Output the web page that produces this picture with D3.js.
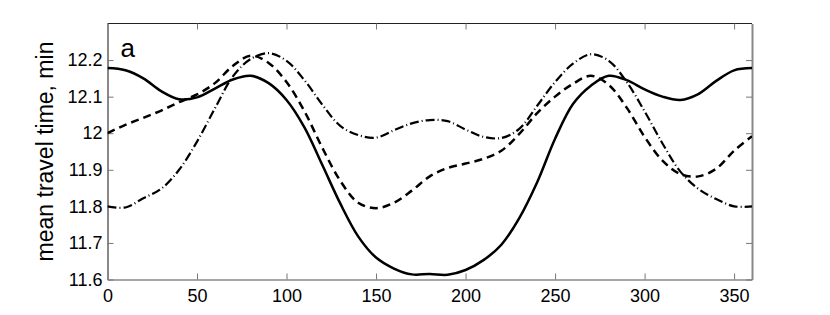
<!DOCTYPE html>
<html>
<head>
<meta charset="utf-8">
<script src="https://cdn.jsdelivr.net/npm/d3@7"></script>
<style>
body { margin: 0; background: #fff; }
text { font-family: "Liberation Sans", Arial, sans-serif; }
</style>
</head>
<body>
<script>
var angles = [0, 10, 20, 30, 40, 50, 60, 70, 80, 90, 100, 110, 120, 130, 140, 150, 160, 170, 180,
              190, 200, 210, 220, 230, 240, 250, 260, 270, 280, 290, 300, 310, 320, 330, 340, 350, 360];

var solidTime = [12.178, 12.172, 12.150, 12.115, 12.093, 12.098, 12.122, 12.147, 12.157, 12.137,
                 12.091, 12.016, 11.913, 11.808, 11.718, 11.660, 11.630, 11.614, 11.615, 11.613,
                 11.626, 11.653, 11.695, 11.768, 11.866, 11.985, 12.080, 12.130, 12.157, 12.145,
                 12.120, 12.100, 12.091, 12.107, 12.143, 12.172, 12.178];

var dashedTime = [12.000, 12.023, 12.042, 12.062, 12.085, 12.106, 12.137, 12.184, 12.212, 12.192,
                  12.140, 12.060, 11.960, 11.870, 11.810, 11.795, 11.810, 11.843, 11.882, 11.905,
                  11.917, 11.930, 11.952, 11.998, 12.055, 12.100, 12.135, 12.157, 12.132, 12.070,
                  11.990, 11.925, 11.888, 11.882, 11.903, 11.952, 11.992];

var dashDotTime = [11.800, 11.797, 11.822, 11.848, 11.900, 11.977, 12.068, 12.155, 12.203, 12.219,
                   12.198, 12.145, 12.078, 12.020, 11.995, 11.988, 12.008, 12.027, 12.036, 12.033,
                   12.010, 11.990, 11.987, 12.012, 12.075, 12.140, 12.190, 12.216, 12.198, 12.140,
                   12.060, 11.972, 11.895, 11.848, 11.820, 11.800, 11.800];

var xTicks = [0, 50, 100, 150, 200, 250, 300, 350];
var yTicks = [11.6, 11.7, 11.8, 11.9, 12, 12.1, 12.2];

var width = 830;
var height = 315;
var margin = { top: 23.5, right: 78, bottom: 35.5, left: 107.5 };
var plotW = width - margin.left - margin.right;
var plotH = height - margin.top - margin.bottom;

var svg = d3.select("body")
  .append("svg")
  .attr("width", width)
  .attr("height", height);

var x = d3.scaleLinear().domain([0, 360]).range([0, plotW]);
var y = d3.scaleLinear().domain([11.6, 12.3]).range([plotH, 0]);

var g = svg.append("g")
  .attr("transform", "translate(" + margin.left + "," + margin.top + ")");

g.append("clipPath")
  .attr("id", "clip")
  .append("rect")
  .attr("width", plotW)
  .attr("height", plotH);

// frame: top line dark, other sides gray like the original
g.append("line")
  .attr("x1", 0).attr("x2", plotW).attr("y1", 0).attr("y2", 0)
  .attr("stroke", "#222").attr("stroke-width", 1);

var xBottom = g.append("g")
  .attr("transform", "translate(0," + plotH + ")")
  .call(d3.axisBottom(x).tickValues(xTicks).tickSizeInner(-6).tickSizeOuter(0).tickPadding(10));

var xTop = g.append("g")
  .call(d3.axisTop(x).tickValues(xTicks).tickSizeInner(-6).tickSizeOuter(0).tickFormat(""));

var yLeft = g.append("g")
  .call(d3.axisLeft(y).tickValues(yTicks).tickSizeInner(-6).tickSizeOuter(0).tickPadding(5)
    .tickFormat(d3.format("~g")));

var yRight = g.append("g")
  .attr("transform", "translate(" + plotW + ",0)")
  .call(d3.axisRight(y).tickValues(yTicks).tickSizeInner(-6).tickSizeOuter(0).tickFormat(""));

[xBottom, xTop, yLeft, yRight].forEach(function(ax) {
  ax.selectAll(".tick line").attr("stroke", "#777").attr("stroke-width", 1);
  ax.selectAll(".tick text")
    .attr("fill", "#000")
    .style("font-size", "18px")
    .style("font-family", "'Liberation Sans', Arial, sans-serif");
});
xTop.select(".domain").remove();

xBottom.select(".domain").attr("stroke", "#888").attr("stroke-width", 1.5);
yLeft.select(".domain").attr("stroke", "#888").attr("stroke-width", 2);
yRight.select(".domain").attr("stroke", "#888").attr("stroke-width", 2);

function makeLine(values) {
  return d3.line()
    .x(function(d, i) { return x(angles[i]); })
    .y(function(d) { return y(d); })
    .curve(d3.curveCatmullRom)(values);
}

var lines = g.append("g").attr("clip-path", "url(#clip)");

lines.append("path")
  .attr("d", makeLine(dashDotTime))
  .attr("fill", "none")
  .attr("stroke", "#000")
  .attr("stroke-width", 2.2)
  .attr("stroke-dasharray", "9,3,1,3");

lines.append("path")
  .attr("d", makeLine(dashedTime))
  .attr("fill", "none")
  .attr("stroke", "#000")
  .attr("stroke-width", 2.5)
  .attr("stroke-dasharray", "8,5");

lines.append("path")
  .attr("d", makeLine(solidTime))
  .attr("fill", "none")
  .attr("stroke", "#000")
  .attr("stroke-width", 2.5);

g.append("text")
  .attr("x", 13)
  .attr("y", 33.5)
  .attr("font-size", "26px")
  .attr("fill", "#000")
  .text("a");

svg.append("text")
  .attr("transform", "translate(53," + (margin.top + plotH / 2) + ") rotate(-90)")
  .attr("text-anchor", "middle")
  .attr("font-size", "23px")
  .attr("fill", "#000")
  .text("mean travel time, min");
</script>
</body>
</html>
